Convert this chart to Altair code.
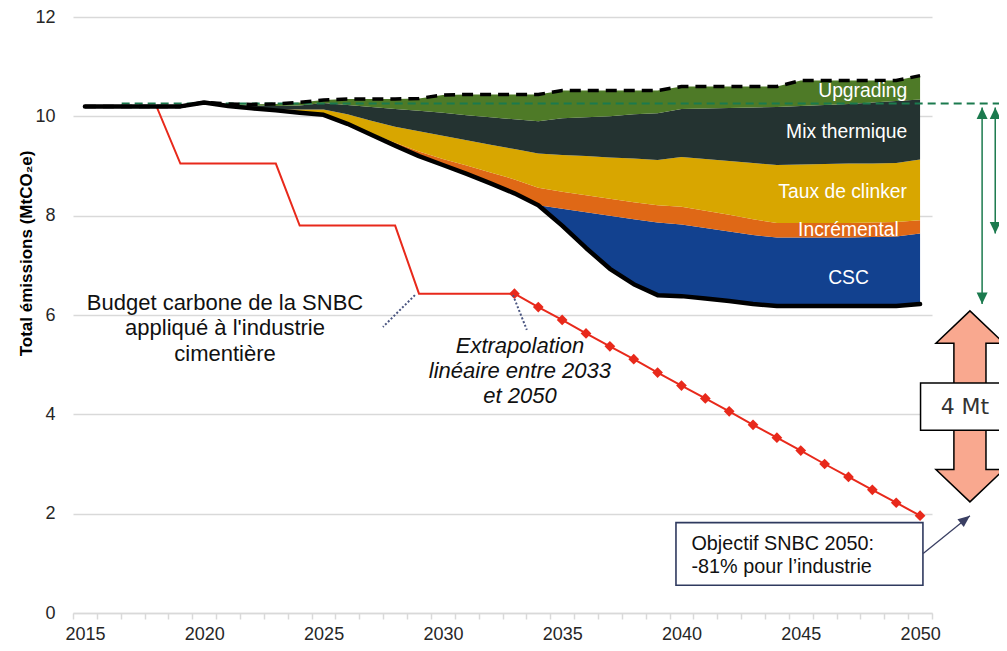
import altair as alt
import pandas as pd

# ---------------- data ----------------
years = list(range(2015, 2051))

# bottom black line (scenario emissions)
emissions = [10.2, 10.2, 10.2, 10.2, 10.2, 10.28, 10.21, 10.16, 10.12, 10.07,
             10.03, 9.85, 9.63, 9.41, 9.2, 9.02, 8.84, 8.65, 8.45, 8.21,
             7.8, 7.35, 6.93, 6.62, 6.4, 6.38, 6.33, 6.28, 6.22, 6.18,
             6.18, 6.18, 6.18, 6.18, 6.18, 6.22]
# cumulative upper boundaries of the stacked bands
csc_top = [10.2, 10.2, 10.2, 10.2, 10.2, 10.28, 10.21, 10.16, 10.12, 10.07,
           10.03, 9.85, 9.63, 9.41, 9.2, 9.02, 8.84, 8.65, 8.45, 8.21,
           8.14, 8.07, 8.0, 7.93, 7.86, 7.82, 7.75, 7.68, 7.61, 7.56,
           7.56, 7.56, 7.56, 7.57, 7.58, 7.64]
incremental_top = [10.2, 10.2, 10.2, 10.2, 10.2, 10.28, 10.21, 10.16, 10.12, 10.07,
                   10.03, 9.86, 9.66, 9.47, 9.29, 9.14, 9.01, 8.87, 8.73, 8.56,
                   8.48, 8.41, 8.34, 8.27, 8.21, 8.18, 8.1, 8.02, 7.93, 7.85,
                   7.85, 7.85, 7.85, 7.86, 7.87, 7.91]
clinker_top = [10.2, 10.2, 10.2, 10.2, 10.2, 10.28, 10.21, 10.16, 10.14, 10.14,
               10.14, 10.04, 9.91, 9.79, 9.7, 9.61, 9.52, 9.43, 9.34, 9.25,
               9.22, 9.2, 9.17, 9.15, 9.12, 9.18, 9.14, 9.1, 9.06, 9.02,
               9.03, 9.04, 9.05, 9.05, 9.06, 9.13]
thermal_top = [10.2, 10.2, 10.2, 10.2, 10.2, 10.28, 10.24, 10.22, 10.21, 10.22,
               10.27, 10.23, 10.19, 10.15, 10.11, 10.07, 10.02, 9.98, 9.94, 9.9,
               9.96, 9.98, 10.0, 10.04, 10.06, 10.15, 10.16, 10.17, 10.18, 10.19,
               10.21, 10.23, 10.25, 10.28, 10.31, 10.34]
upgrading_top = [10.2, 10.2, 10.2, 10.2, 10.2, 10.28, 10.25, 10.24, 10.25, 10.28,
                 10.33, 10.35, 10.35, 10.35, 10.36, 10.43, 10.44, 10.44, 10.44, 10.44,
                 10.52, 10.52, 10.52, 10.52, 10.52, 10.6, 10.6, 10.6, 10.6, 10.6,
                 10.72, 10.72, 10.72, 10.72, 10.72, 10.82]

band_names = ["CSC", "Incrémental", "Taux de clinker", "Mix thermique", "Upgrading"]
band_colors = ["#12418F", "#DF6816", "#D8A600", "#243331", "#4E7A27"]

# SNBC carbon budget (step) and linear extrapolation
budget_years = list(range(2015, 2034))
budget_values = [10.2, 10.2, 10.2, 10.2, 9.05, 9.05, 9.05, 9.05, 9.05, 7.8,
                 7.8, 7.8, 7.8, 7.8, 6.43, 6.43, 6.43, 6.43, 6.43]
extrap_years = list(range(2033, 2051))
extrap_values = [6.43, 6.16, 5.9, 5.63, 5.37, 5.11, 4.84, 4.58, 4.32, 4.06,
                 3.79, 3.53, 3.27, 3.0, 2.74, 2.48, 2.22, 1.96]

reference_level = 10.26

# ---------------- tables ----------------
bounds = [emissions, csc_top, incremental_top, clinker_top, thermal_top, upgrading_top]
rows = []
for k, name in enumerate(band_names):
    for i, yr in enumerate(years):
        rows.append({"x": yr, "band": name, "y": bounds[k][i], "y2": bounds[k + 1][i]})
bands = pd.DataFrame(rows)

emis_df = pd.DataFrame({"x": years, "y": emissions})
top_df = pd.DataFrame({"x": years, "y": upgrading_top})
budget_df = pd.DataFrame({"x": budget_years, "y": budget_values})
extrap_df = pd.DataFrame({"x": extrap_years, "y": extrap_values})

FONT = "Liberation Sans"
RED = "#E8291B"
GREEN = "#1B7A4E"
NAVY = "#3A3F63"

x_scale = alt.Scale(domain=[2014.5, 2050.5], nice=False, zero=False)
y_scale = alt.Scale(domain=[0, 12], nice=False, zero=False)

tick_vals = [2014.5 + i for i in range(37)]
x_axis = alt.Axis(
    values=tick_vals,
    labelExpr="(datum.value + 0.5) % 5 == 0 ? format(datum.value + 0.5, 'd') : ''",
    labelOffset=12, labelOverlap=False, labelFlush=False,
    grid=False, domainColor="#D9D9D9", domainWidth=1.5,
    tickColor="#D9D9D9", tickWidth=1.5, tickSize=6, labelPadding=6,
    labelFontSize=18, labelFont=FONT, labelColor="#262626", title=None,
)
y_axis = alt.Axis(
    values=[0, 2, 4, 6, 8, 10, 12], grid=True, gridColor="#D9D9D9", gridWidth=1.5,
    domain=False, ticks=False, labelPadding=18, labelFontSize=18, labelFont=FONT,
    labelColor="#262626",
    title="Total émissions (MtCO₂e)", titleFont=FONT, titleFontSize=17,
    titleFontWeight="bold", titleColor="#000000", titleAngle=270,
    titleX=-42, titleY=236, titleAlign="center", titleBaseline="alphabetic",
)

X = alt.X("x:Q", scale=x_scale, axis=x_axis)
Y = alt.Y("y:Q", scale=y_scale, axis=y_axis)

areas = alt.Chart(bands).mark_area(opacity=1).encode(
    x=X, y=Y, y2="y2:Q",
    color=alt.Color("band:N", scale=alt.Scale(domain=band_names, range=band_colors), legend=None),
)

budget_line = alt.Chart(budget_df).mark_line(color=RED, strokeWidth=2).encode(x=X, y=Y)
extrap_line = alt.Chart(extrap_df).mark_line(color=RED, strokeWidth=2).encode(x=X, y=Y)
extrap_pts = alt.Chart(extrap_df).mark_point(shape="diamond", filled=True, size=115,
                                             color=RED, opacity=1).encode(x=X, y=Y)

ref_df = pd.DataFrame({"x": [2016.54], "x2": [2053.45], "y": [reference_level]})
ref_line = alt.Chart(ref_df).mark_rule(color=GREEN, strokeWidth=2, strokeDash=[8, 5]).encode(
    x=X, x2="x2:Q", y=Y)

top_line = alt.Chart(top_df).mark_line(color="black", strokeWidth=3.5, strokeDash=[11, 7]).encode(x=X, y=Y)
emis_line = alt.Chart(emis_df).mark_line(color="black", strokeWidth=4.5, strokeCap="round",
                                         strokeJoin="round").encode(x=X, y=Y)

# band labels
lab_df = pd.DataFrame({
    "x": [2049.46, 2049.46, 2049.45, 2049.11],
    "y": [10.38, 9.56, 8.35, 7.60],
    "t": ["Upgrading", "Mix thermique", "Taux de clinker", "Incrémental"],
})
band_labels = alt.Chart(lab_df).mark_text(align="right", baseline="alphabetic", font=FONT,
                                          fontSize=19.3, color="white").encode(x=X, y=Y, text="t:N")
csc_label = alt.Chart(pd.DataFrame({"x": [2047.0], "y": [6.62], "t": ["CSC"]})).mark_text(
    align="center", baseline="alphabetic", font=FONT, fontSize=19.3, color="white").encode(
    x=X, y=Y, text="t:N")

# annotations
budget_txt = alt.Chart(pd.DataFrame({
    "x": [2020.87], "y": [6.11],
    "t": ["Budget carbone de la SNBC\nappliqué à l'industrie\ncimentière"]})).mark_text(
    align="center", baseline="alphabetic", font=FONT, fontSize=22, lineBreak="\n",
    lineHeight=25.7, color="#111111").encode(x=X, y=Y, text="t:N")
extrap_txt = alt.Chart(pd.DataFrame({
    "x": [2033.23], "y": [5.23],
    "t": ["Extrapolation\nlinéaire entre 2033\net 2050"]})).mark_text(
    align="center", baseline="alphabetic", font=FONT, fontSize=22, fontStyle="italic",
    lineBreak="\n", lineHeight=25, color="#111111").encode(x=X, y=Y, text="t:N")

leader_df = pd.DataFrame({"x": [2028.83, 2032.94], "x2": [2027.49, 2033.52],
                          "y": [6.40, 6.40], "y2": [5.76, 5.70]})
leaders = alt.Chart(leader_df).mark_rule(color="#4A5580", strokeWidth=2, strokeDash=[2, 2]).encode(
    x=X, x2="x2:Q", y=Y, y2="y2:Q")

# callout box bottom right
box_df = pd.DataFrame({"x": [2039.77], "x2": [2050.12], "y": [1.82], "y2": [0.56]})
callout_box = alt.Chart(box_df).mark_rect(fill="white", stroke="#2F3A5F", strokeWidth=1.6).encode(
    x=X, x2="x2:Q", y=Y, y2="y2:Q")
callout_txt = alt.Chart(pd.DataFrame({
    "x": [2040.42], "y": [1.27],
    "t": ["Objectif SNBC 2050:\n-81% pour l’industrie"]})).mark_text(
    align="left", baseline="alphabetic", font=FONT, fontSize=19.8, lineBreak="\n",
    lineHeight=23.3, color="#111111").encode(x=X, y=Y, text="t:N")
pointer_df = pd.DataFrame({"x": [2050.13], "x2": [2052.09], "y": [1.20], "y2": [extrap_values[-1]]})
pointer = alt.Chart(pointer_df).mark_rule(color=NAVY, strokeWidth=1.3).encode(
    x=X, x2="x2:Q", y=Y, y2="y2:Q")
pointer_head = alt.Chart(pd.DataFrame({"x": [2052.09], "y": [extrap_values[-1]]})).mark_point(
    shape="M0,0L-0.5,1.2L0.5,1.2Z", size=400, filled=True, color=NAVY, opacity=1, angle=51).encode(
    x=X, y=Y)

# green double arrows on the right
garrow_df = pd.DataFrame({"x": [2052.6, 2053.15],
                          "y": [reference_level - 0.08, reference_level - 0.08],
                          "y2": [emissions[-1], csc_top[-1]]})
g_shafts = alt.Chart(garrow_df).mark_rule(color=GREEN, strokeWidth=1.5).encode(
    x=X, y=Y, y2="y2:Q")
g_heads_up = alt.Chart(garrow_df).mark_point(
    shape="M0,0L-0.55,1.15L0.55,1.15Z", size=400, filled=True, color=GREEN, opacity=1).encode(
    x=X, y=Y)
g_heads_dn = alt.Chart(garrow_df).mark_point(
    shape="M0,0L-0.55,-1.15L0.55,-1.15Z", size=400, filled=True, color=GREEN, opacity=1).encode(
    x=X, y=alt.Y("y2:Q", scale=y_scale, axis=y_axis))

# salmon "4 Mt" double arrow
big_arrow = alt.Chart(pd.DataFrame({"x": [2052.09], "y": [4.16]})).mark_point(
    shape="M0,-1L0.356,-0.662L0.168,-0.662L0.168,0.662L0.356,0.662L0,1L-0.356,0.662L-0.168,0.662L-0.168,-0.662L-0.356,-0.662Z",
    size=36481, filled=True, fill="#F9A88F", stroke="black", strokeWidth=1.5, opacity=1).encode(
    x=X, y=Y)
mt_box = alt.Chart(pd.DataFrame({"x": [2050.02], "x2": [2054.2], "y": [4.63], "y2": [3.68]})).mark_rect(
    fill="white", stroke="black", strokeWidth=1.5).encode(x=X, x2="x2:Q", y=Y, y2="y2:Q")
mt_txt = alt.Chart(pd.DataFrame({"x": [2051.88], "y": [4.15], "t": ["4 Mt"]})).mark_text(
    align="center", baseline="middle", font="DejaVu Sans", fontSize=22, color="#333333").encode(
    x=X, y=Y, text="t:N")

chart = alt.layer(
    areas, budget_line, extrap_line, extrap_pts, ref_line, top_line, emis_line,
    band_labels, csc_label, budget_txt, extrap_txt, leaders,
    callout_box, callout_txt, pointer, pointer_head,
    g_shafts, g_heads_up, g_heads_dn, big_arrow, mt_box, mt_txt,
).properties(
    width=859, height=596,
    autosize=alt.AutoSizeParams(type="none"),
    padding={"left": 65, "top": 9, "right": 67, "bottom": 34},
).configure_view(stroke=None)

chart.save("out.html", embed_options={"renderer": "svg", "actions": False})
